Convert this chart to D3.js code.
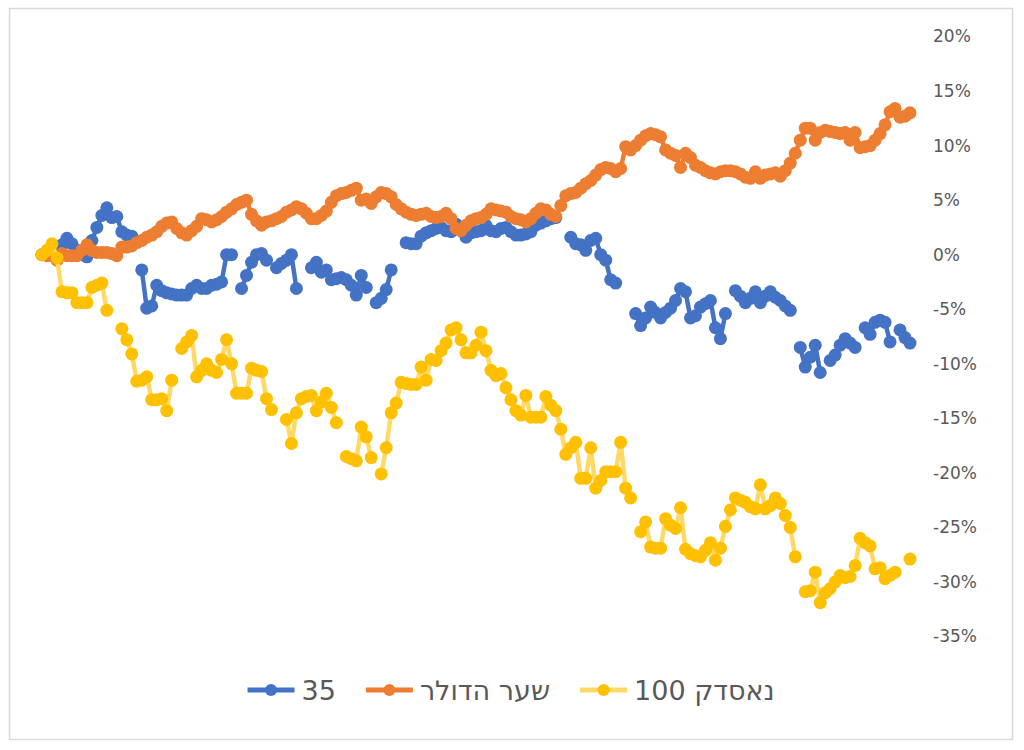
<!DOCTYPE html>
<html>
<head>
<meta charset="utf-8">
<script src="https://cdn.jsdelivr.net/npm/d3@7"></script>
<style>
  html, body { margin: 0; padding: 0; background: #fff; }
  svg { display: block; }
</style>
</head>
<body>
<svg id="chart" width="1024" height="750"></svg>
<script>
// ---- DATA (percent change) ----
const seriesNames = ["35", "שער הדולר", "נאסדק 100"];
const yTicks = [20, 15, 10, 5, 0, -5, -10, -15, -20, -25, -30, -35];

const ta35 = [
  0, 0, 0, 0, 0.9, 1.5, 1.0, 0.4, 0, -0.2,
  1.3, 2.5, 3.6, 4.3, 3.4, 3.5, 2.1, 1.8, 1.7, null,
  -1.4, -4.9, -4.7, -2.8, -3.3, -3.5, -3.6, -3.7, -3.7, -3.7,
  -3.1, -2.8, -3.1, -3.1, -2.8, -2.7, -2.5, 0, 0, null,
  -3.1, -1.9, -0.7, 0, 0.1, -0.5, null, -1.2, -0.8, -0.5,
  0, -3.1, null, null, -1.2, -0.7, -1.6, -1.4, -2.3, -2.2,
  -2.1, -2.3, -2.8, -3.7, -1.9, -3.0, null, -4.4, -4.0, -3.2,
  -1.4, null, null, 1.1, 1.0, 1.0, 1.7, 2.0, 2.2, 2.4,
  2.5, 2.2, 2.1, 2.8, 2.2, 1.6, 2.0, 2.1, 2.2, 2.7,
  2.2, 2.1, 2.4, 2.5, 2.1, 1.8, 1.8, 1.9, 2.1, 2.7,
  2.9, 3.1, 3.3, 3.4, null, null, 1.6, 1.0, 0.9, 0.4,
  1.3, 1.5, 0, -0.5, -2.3, -2.6, null, null, null, -5.4,
  -6.5, -5.8, -4.8, -5.3, -5.8, -5.3, -4.9, -4.2, -3.1, -3.4,
  -5.8, -5.6, -4.8, -4.5, -4.2, -6.7, -7.7, -5.4, null, -3.3,
  -3.8, -4.4, -4.0, -3.4, -4.4, -3.8, -3.4, -3.9, -4.2, -4.7,
  -5.1, null, -8.5, -10.3, -9.4, -8.3, -10.8, null, -9.7, -9.2,
  -8.3, -7.7, -8.1, -8.5, null, -6.7, -7.3, -6.2, -6.0, -6.2,
  -8.0, null, -6.9, -7.6, -8.1
];

const dollar = [
  0, -0.1, -0.1, -0.5, 0.1, -0.1, -0.1, -0.1, 0.4, 0.9,
  0.4, 0.2, 0.2, 0.2, 0.1, -0.1, 0.7, 0.7, 0.8, 1.1,
  1.3, 1.6, 1.8, 2.1, 2.6, 2.9, 3.0, 2.4, 2.0, 1.8,
  2.2, 2.6, 3.3, 3.2, 3.0, 3.2, 3.5, 3.9, 4.2, 4.6,
  4.8, 5.0, 3.7, 3.1, 2.7, 3.0, 3.1, 3.3, 3.5, 3.9,
  4.1, 4.4, 4.2, 3.8, 3.3, 3.3, 3.6, 4.0, 4.8, 5.4,
  5.6, 5.7, 5.9, 6.1, 5.0, 5.1, 4.7, 5.3, 5.7, 5.6,
  5.3, 4.6, 4.2, 3.9, 3.7, 3.6, 3.7, 3.8, 3.5, 3.4,
  3.5, 3.8, 3.3, 2.4, 2.2, 2.7, 3.1, 3.3, 3.4, 3.7,
  4.2, 4.1, 4.0, 3.9, 3.5, 3.3, 3.2, 3.0, 3.3, 3.8,
  4.2, 4.1, 3.7, 3.5, 4.5, 5.4, 5.6, 5.7, 6.1, 6.5,
  6.8, 7.3, 7.8, 8.0, 7.9, 7.6, 7.9, 9.9, 9.6, 10.0,
  10.5, 10.9, 11.1, 11.0, 10.8, 9.6, 9.3, 9.1, 8.0, 9.3,
  8.9, 8.2, 8.0, 7.7, 7.5, 7.4, 7.6, 7.7, 7.7, 7.6,
  7.4, 7.1, 7.0, 7.6, 7.0, 7.3, 7.4, 7.5, 7.2, 7.7,
  8.4, 9.3, 10.5, 11.6, 11.6, 10.5, 11.2, 11.4, 11.3, 11.2,
  11.1, 11.2, 10.5, 11.2, 9.8, 9.9, 10.0, 10.5, 11.1, 11.9,
  13.1, 13.4, 12.6, 12.7, 13.0
];

const nasdaq = [
  0, 0.4, 1.0, -0.3, -3.4, -3.5, -3.5, -4.4, -4.4, -4.4,
  -3.0, -2.8, -2.6, -5.1, null, null, -6.8, -7.8, -9.1, -11.6,
  -11.5, -11.2, -13.3, -13.3, -13.2, -14.3, -11.5, null, -8.6, -8.0,
  -7.4, -11.2, -10.6, -10.0, -10.6, -10.8, -9.6, -7.8, -10.0, -12.7,
  -12.7, -12.7, -10.4, -10.6, -10.7, -13.2, -14.2, null, null, -15.1,
  -17.3, -14.5, -13.2, -13.0, -12.9, -14.3, -13.5, -12.7, -14.0, -15.4,
  null, -18.5, -18.7, -18.9, -15.8, -16.7, -18.6, null, -20.1, -17.7,
  -14.5, -13.6, -11.7, -11.8, -11.9, -11.9, -10.3, -11.5, -9.6, -9.7,
  -8.8, -8.1, -6.9, -6.7, -7.8, -9.0, -9.0, -8.3, -7.1, -8.8,
  -10.6, -11.1, -10.9, -12.2, -13.3, -14.3, -14.7, -12.9, -14.9, -14.9,
  -14.9, -13.0, -13.8, -14.3, -16.0, -18.3, -17.7, -17.2, -20.5, -20.5,
  -17.7, -21.4, -20.7, -19.9, -19.9, -19.9, -17.2, -21.4, -22.3, null,
  -25.4, -24.5, -26.8, -26.9, -26.9, -24.2, -24.8, -25.1, -23.2, -27.0,
  -27.4, -27.6, -27.7, -27.1, -26.4, -28.0, -26.9, -24.9, -23.4, -22.3,
  -22.5, -22.7, -23.1, -23.3, -21.1, -23.3, -23.0, -22.3, -22.8, -23.9,
  -25.0, -27.7, null, -30.9, -30.8, -29.1, -31.9, -31.0, -30.6, -30.0,
  -29.4, -29.6, -29.5, -28.5, -26.0, -26.4, -26.7, -28.8, -28.7, -29.7,
  -29.4, -29.1, null, null, -27.9
];

// ---- STYLES ----
const lineColors = ["#4472C4", "#ED7D31", "#FFD966"];
const markerColors = ["#4472C4", "#ED7D31", "#FFC000"];
const seriesValues = [ta35, dollar, nasdaq];

const svg = d3.select("#chart");

// outer frame
svg.append("rect")
  .attr("x", 9.5).attr("y", 8.5)
  .attr("width", 1003).attr("height", 731)
  .attr("fill", "#fff").attr("stroke", "#d9d9d9").attr("stroke-width", 1.5);

const n = dollar.length;
const x = d3.scalePoint().domain(d3.range(n)).range([42, 910]);
const y = d3.scaleLinear().domain([-35, 20]).range([636.5, 36.5]);

// y axis on the right
const axis = d3.axisRight(y).tickValues(yTicks).tickFormat(d => d + "%").tickSize(0).tickPadding(0);
const gAxis = svg.append("g").attr("transform", "translate(933,0)").call(axis);
gAxis.select(".domain").remove();
gAxis.selectAll("text")
  .attr("fill", "#595959")
  .style("font-family", "'DejaVu Sans', sans-serif")
  .style("font-size", "17px")
  .attr("text-anchor", "start");

// series
seriesValues.forEach((vals, si) => {
  const data = vals.map((v, i) => ({ i, v }));
  const line = d3.line()
    .defined(d => d.v !== null)
    .x(d => x(d.i))
    .y(d => y(d.v));
  const g = svg.append("g");
  g.append("path")
    .datum(data)
    .attr("d", line)
    .attr("fill", "none")
    .attr("stroke", lineColors[si])
    .attr("stroke-width", 4.5)
    .attr("stroke-linejoin", "round")
    .attr("stroke-linecap", "round");
  g.selectAll("circle")
    .data(data.filter(d => d.v !== null))
    .join("circle")
    .attr("cx", d => x(d.i))
    .attr("cy", d => y(d.v))
    .attr("r", 6.5)
    .attr("fill", markerColors[si]);
});

// legend
const legend = svg.append("g");
const legY = 690;
const items = seriesNames.map((name, si) => {
  const g = legend.append("g");
  g.append("line")
    .attr("x1", 0).attr("x2", 47).attr("y1", legY).attr("y2", legY)
    .attr("stroke", lineColors[si]).attr("stroke-width", 5);
  g.append("circle")
    .attr("cx", 23.5).attr("cy", legY).attr("r", 6)
    .attr("fill", markerColors[si]);
  const t = g.append("text")
    .attr("x", 54).attr("y", legY)
    .attr("dominant-baseline", "central")
    .attr("fill", "#595959")
    .style("font-family", "'DejaVu Sans', sans-serif")
    .style("font-size", "27px")
    .style("direction", "rtl")
    .style("unicode-bidi", "embed")
    .attr("text-anchor", "end")
    .text(name);
  const w = t.node().getComputedTextLength();
  return { g, w: 54 + w };
});
const gap = 30;
const total = d3.sum(items, d => d.w) + gap * (items.length - 1);
let cx = 511 - total / 2;
items.forEach(it => {
  it.g.attr("transform", `translate(${cx},0)`);
  cx += it.w + gap;
});
</script>
</body>
</html>
